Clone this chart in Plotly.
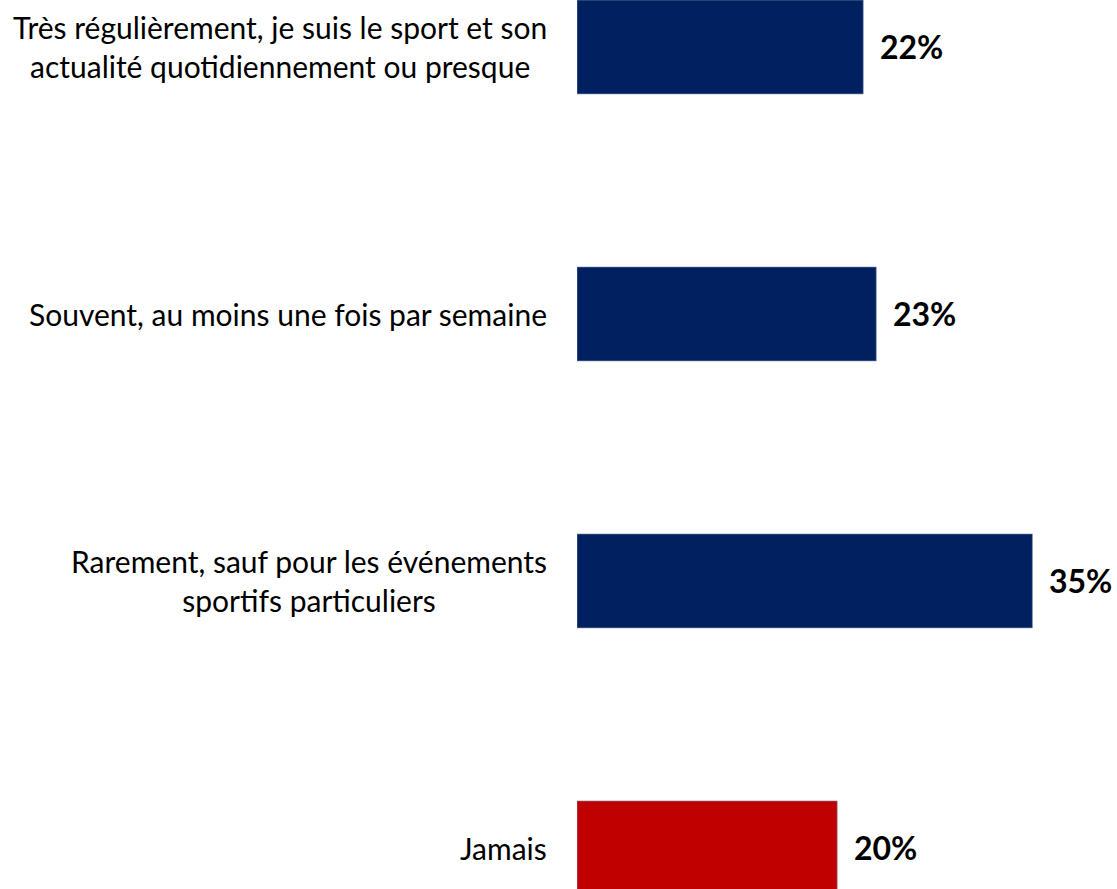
import plotly.graph_objects as go

categories = [
    "Très régulièrement, je suis le sport et son<br>actualité quotidiennement ou presque",
    "Souvent, au moins une fois par semaine",
    "Rarement, sauf pour les événements<br>sportifs particuliers",
    "Jamais",
]
values = [22, 23, 35, 20]
value_labels = ["22%", "23%", "35%", "20%"]
colors = ["#002060", "#002060", "#002060", "#C00000"]

FONT = "Lato"

fig = go.Figure(
    go.Bar(
        x=values,
        y=list(range(len(categories))),
        orientation="h",
        width=0.352,
        marker=dict(color=colors, line=dict(width=0.6, color="#8497B0")),
        hoverinfo="skip",
    )
)

for i, (cat, v, lab) in enumerate(zip(categories, values, value_labels)):
    fig.add_annotation(
        x=0, y=i, xref="x", yref="y", text=cat, showarrow=False,
        xanchor="right", yanchor="middle", align="center", xshift=-28,
        font=dict(family=FONT, size=30, color="#000000"),
    )
    fig.add_annotation(
        x=v, y=i, xref="x", yref="y", text="<b>" + lab + "</b>", showarrow=False,
        xanchor="left", yanchor="middle", xshift=15,
        font=dict(family=FONT, size=32, color="#000000"),
    )

fig.update_layout(
    width=1117, height=889,
    margin=dict(l=577, r=0, t=0, b=0),
    plot_bgcolor="white", paper_bgcolor="white",
    showlegend=False,
    xaxis=dict(range=[0, 41.5], visible=False, fixedrange=True),
    yaxis=dict(range=[3.154, -0.176], visible=False, fixedrange=True),
    bargap=0,
)

fig.write_html(
    "out.html",
    config={"displayModeBar": False, "staticPlot": True},
    post_script="document.body.style.margin='0';",
)
